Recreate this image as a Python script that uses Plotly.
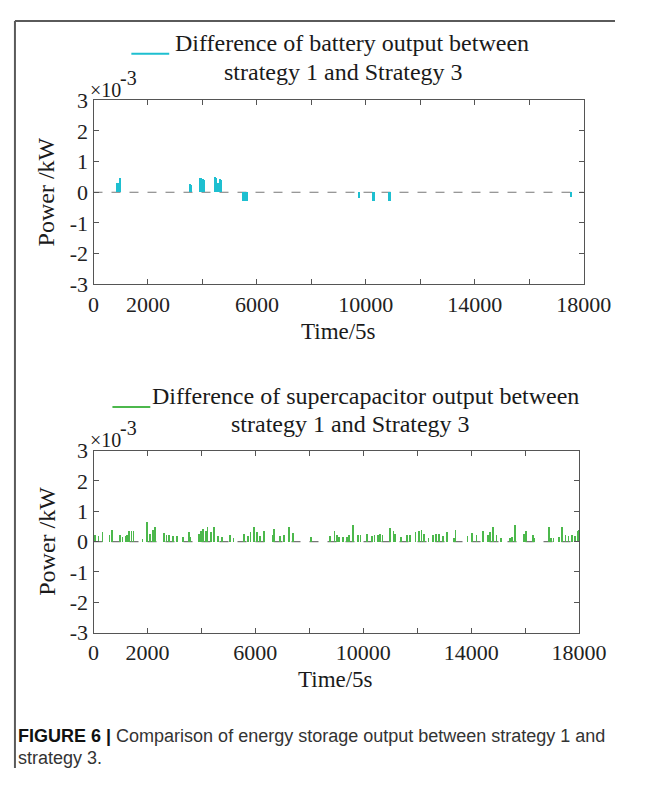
import plotly.graph_objects as go

W, H = 651, 789
PAGE_MARGIN = 8  # default body margin of the page the figure is shown in
FW, FH = W - 2 * PAGE_MARGIN, H - 2 * PAGE_MARGIN

# battery output difference, strategy 1 vs strategy 3 (x1e-3 kW)
battery_t = [850, 900, 950, 3530, 3570, 3900, 3950, 4020, 4060, 4450, 4500, 4560,
             4620, 4660, 5470, 5520, 5570, 5620, 9730, 10260, 10300, 10850, 10890, 17510]
battery_dp = [0.28, 0.30, 0.44, 0.26, 0.24, 0.47, 0.45, 0.41, 0.40, 0.50, 0.45, 0.30,
              0.41, 0.38, -0.28, -0.28, -0.28, -0.28, -0.20, -0.30, -0.30, -0.30, -0.30, -0.15]

# supercapacitor output difference, strategy 1 vs strategy 3 (x1e-3 kW)
sc_t = [25, 164, 316, 574, 655, 960, 1053, 1170, 1217, 1299, 1393, 1463, 1802, 1978,
        2071, 2188, 2270, 2598, 2691, 2773, 2925, 3089, 3300, 3510, 3580, 3885, 3967,
        4048, 4142, 4212, 4329, 4435, 4610, 4750, 5055, 5172, 5569, 5698, 5803, 5932,
        6037, 6154, 6307, 6622, 6681, 6903, 7044, 7231, 7371, 8038,
        8760, 8913, 8995, 9076, 9229, 9381, 9463, 9591, 9790, 9884, 10129, 10305,
        10399, 10516, 10597, 10691, 10960, 11100, 11171, 11370, 11592, 11721, 11920,
        12037, 12142, 12247, 12399, 12563, 12680, 12797, 12937, 13078, 13335, 13405,
        13850, 14026, 14178, 14412, 14611, 14692, 14786, 14926, 15102, 15430, 15488,
        15605, 15944, 16015, 16284, 16330, 16857, 16951, 17032, 17243, 17337, 17477,
        17594, 17711, 17828, 17945, 17990]
sc_dp = [0.24, 0.20, 0.33, 0.22, 0.41, 0.22, 0.18, 0.20, 0.24, 0.35, 0.35, 0.37, 0.10, 0.67,
         0.27, 0.41, 0.48, 0.28, 0.24, 0.22, 0.20, 0.20, 0.18, 0.33, 0.16, 0.27, 0.35,
         0.44, 0.35, 0.48, 0.33, 0.50, 0.20, 0.18, 0.24, 0.14, 0.27, 0.20, 0.33, 0.50,
         0.33, 0.20, 0.35, 0.22, 0.44, 0.20, 0.22, 0.48, 0.31, 0.16,
         0.20, 0.37, 0.24, 0.16, 0.18, 0.18, 0.22, 0.56, 0.22, 0.24, 0.27, 0.20,
         0.24, 0.24, 0.27, 0.22, 0.46, 0.35, 0.27, 0.16, 0.22, 0.24, 0.33,
         0.35, 0.40, 0.27, 0.14, 0.22, 0.27, 0.27, 0.20, 0.33, 0.14, 0.41,
         0.20, 0.31, 0.22, 0.35, 0.24, 0.33, 0.50, 0.22, 0.12, 0.14, 0.16,
         0.56, 0.27, 0.35, 0.22, 0.12, 0.48, 0.14, 0.12, 0.16, 0.50, 0.22,
         0.20, 0.22, 0.20, 0.37, 0.39]

x_labelled = [0, 2000, 6000, 10000, 14000, 18000]
x_step = 2000
y_ticks = [-3, -2, -1, 0, 1, 2, 3]

CYAN = "#1ebfd0"
GREEN = "#4cb84c"
AX = "#555555"
SERIF = "Liberation Serif"


def px(x):
    # page pixel -> paper fraction
    return (x - PAGE_MARGIN) / FW


def py(y):
    return 1 - (y - PAGE_MARGIN) / FH


fig = go.Figure()
fig.add_trace(go.Bar(x=battery_t, y=battery_dp, width=50, marker=dict(color=CYAN, line_width=0),
                     xaxis="x", yaxis="y", showlegend=False))
fig.add_trace(go.Bar(x=sc_t, y=sc_dp, width=28, marker=dict(color=GREEN, line_width=0),
                     xaxis="x2", yaxis="y2", showlegend=False))

axis_common = dict(showline=True, linecolor=AX, linewidth=1, mirror="ticks", ticks="inside",
                   ticklen=5, tickcolor=AX, showgrid=False, zeroline=False,
                   tickfont=dict(family=SERIF, size=22, color="#222"))
x_common = dict(range=[0, 18000], tickvals=x_labelled, ticktext=[str(v) for v in x_labelled],
                minor=dict(tick0=0, dtick=x_step, ticks="inside", ticklen=5, tickcolor=AX),
                **axis_common)
y_common = dict(range=[-3, 3], tickvals=y_ticks, ticktext=[str(v) for v in y_ticks],
                **axis_common)

fig.update_layout(
    width=FW, height=FH, margin=dict(l=0, r=0, t=0, b=0),
    paper_bgcolor="white", plot_bgcolor="white", bargap=0,
    xaxis=dict(domain=[px(92), px(610)], anchor="y", **x_common),
    yaxis=dict(domain=[py(281), py(91)], anchor="x", **y_common),
    xaxis2=dict(domain=[px(92), px(605)], anchor="y2", **x_common),
    yaxis2=dict(domain=[py(641), py(453)], anchor="x2", **y_common),
)

# dashed zero lines
for xr, yr in [("x", "y"), ("x2", "y2")]:
    fig.add_shape(type="line", xref=xr, yref=yr, x0=0, x1=18000, y0=0, y1=0,
                  line=dict(color="#777", width=1.2, dash="dash"), layer="below")

# frame: top and left edges only (the rest is cut off in the page)
frame = dict(color="#5a5a5a", width=2)
fig.add_shape(type="line", xref="paper", yref="paper", x0=px(9), x1=1, y0=py(9), y1=py(9), line=frame)
fig.add_shape(type="line", xref="paper", yref="paper", x0=px(9), x1=px(9), y0=py(9), y1=0, line=frame)

# legend keys
fig.add_shape(type="line", xref="paper", yref="paper", x0=px(132), x1=px(172),
              y0=py(43), y1=py(43), line=dict(color=CYAN, width=2))
fig.add_shape(type="line", xref="paper", yref="paper", x0=px(112), x1=px(152),
              y0=py(408), y1=py(408), line=dict(color=GREEN, width=2))


def note(text, x, y, size, xanchor="center", family=SERIF, color="#1a1a1a", angle=0):
    fig.add_annotation(text=text, x=px(x), y=py(y), xref="paper", yref="paper",
                       xanchor=xanchor, yanchor="middle", showarrow=False, textangle=angle,
                       font=dict(family=family, size=size, color=color))


note("Difference of battery output between", 176, 32, 24, xanchor="left")
note("strategy 1 and Strategy 3", 356, 62, 24)
note("Difference of supercapacitor output between", 152, 397, 24, xanchor="left")
note("strategy 1 and Strategy 3", 364, 425, 24)

for ytop, ybot, xmid in [(91, 281, 351), (453, 641, 348)]:
    note("×10", 86, ytop - 11, 20, xanchor="left")
    note("-3", 118, ytop - 23, 20, xanchor="left")
    note("Power /kW", 42, (ytop + ybot) / 2, 24, angle=-90)
    note("Time/5s", xmid, ybot + 49, 23)

note("<b>FIGURE 6 |</b> <span style='color:#333'>Comparison of energy storage output between strategy 1 and</span>",
     10, 748, 18, xanchor="left", family="Liberation Sans", color="#111")
note("strategy 3.", 10, 771, 18, xanchor="left", family="Liberation Sans", color="#333")

fig.write_html("out.html", config={"displayModeBar": False})
